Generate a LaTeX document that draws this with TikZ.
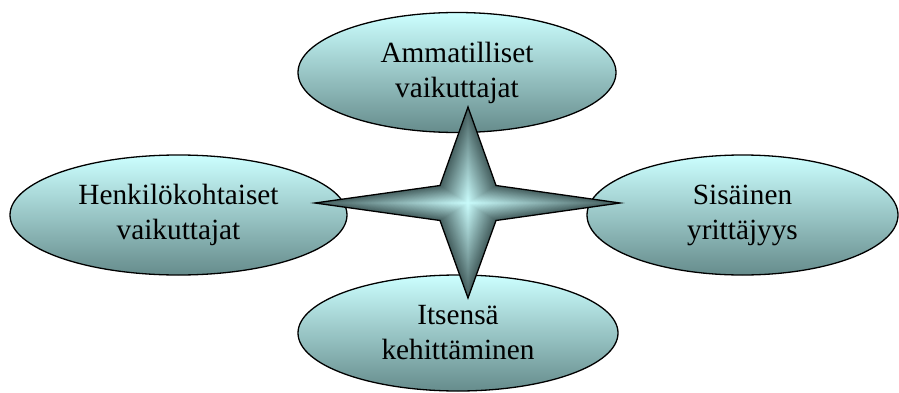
\documentclass[tikz,border=0pt]{standalone}
\usepackage{fontspec}
\setmainfont{Liberation Serif}
\usetikzlibrary{shapes.geometric}
\definecolor{bubbletop}{RGB}{204,255,255}
\definecolor{bubblebot}{RGB}{102,140,140}
\definecolor{starlight}{RGB}{204,255,255}
\definecolor{stardark}{RGB}{70,96,96}
\begin{document}
\begin{tikzpicture}[x=1pt,y=1pt,
  bubble/.style={ellipse, draw=black, line width=1.3pt,
    top color=bubbletop, bottom color=bubblebot,
    inner sep=0pt, align=center, text=black,
    font=\fontsize{29.3}{35}\selectfont},
  starline/.style={draw=black, line width=1.3pt, line join=miter}
]
\useasboundingbox (0,0) rectangle (899,392);

% four themes around the centre
\node[bubble, minimum width=318, minimum height=120] (prof) at (457,319.5) {Ammatilliset\\vaikuttajat};
\node[bubble, minimum width=337, minimum height=120] (pers) at (178.5,177) {Henkilökohtaiset\\vaikuttajat};
\node[bubble, minimum width=311, minimum height=120] (intra) at (742.5,177) {Sisäinen\\yrittäjyys};
\node[bubble, minimum width=320, minimum height=116] (self) at (458,59) {Itsensä\\kehittäminen};

% four-pointed star, shaded from its outline towards the centre
\coordinate (hub) at (468,189);
\foreach \i in {0,...,48}{
  \pgfmathsetmacro\sc{1-\i/48}
  \pgfmathsetmacro\mx{100*\i/48}
  \begin{scope}[shift={(hub)}, scale=\sc]
    \fill[starlight!\mx!stardark]
      (0,96) -- (28,17.5) -- (152,0) -- (28,-17.5) -- (0,-95)
      -- (-28,-17.5) -- (-153,0) -- (-28,17.5) -- cycle;
  \end{scope}
}
\begin{scope}[shift={(hub)}]
  \path[starline]
    (0,96) -- (28,17.5) -- (152,0) -- (28,-17.5) -- (0,-95)
    -- (-28,-17.5) -- (-153,0) -- (-28,17.5) -- cycle;
\end{scope}
\end{tikzpicture}
\end{document}
